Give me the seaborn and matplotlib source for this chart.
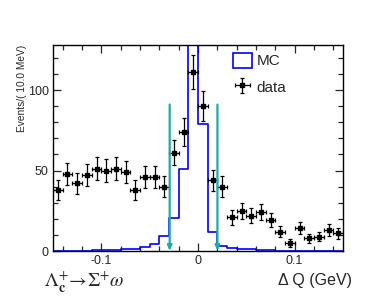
import numpy as np
import pandas as pd
import matplotlib
matplotlib.use("Agg")
import matplotlib.pyplot as plt
import seaborn as sns
from matplotlib.patches import Patch

# ---- data ----
bin_edges = [round(-0.15 + 0.01 * i, 3) for i in range(31)]
bin_centers = [round(-0.145 + 0.01 * i, 4) for i in range(30)]
data_counts = [38, 48, 42, 47, 51, 50, 51, 49, 38, 46, 46, 40, 61, 74, 111,
               90, 44, 40, 21, 25, 22, 24, 19, 12, 5, 14, 8, 9, 13, 11]
mc_counts = [0.3, 0.3, 0.3, 0.3, 0.6, 0.6, 0.6, 1.0, 1.0, 2.3, 4.3, 9.3, 20.3, 51, 180,
             79, 12, 3.3, 1.7, 1.0, 1.0, 0.6, 0.6, 0.3, 0.3, 0.3, 0.3, 0.3, 0.3, 0.3]
cut_positions = [-0.0293, 0.0201]
cut_height = 91
xticks = [-0.1, 0.0, 0.1]
xticklabels = ["-0.1", "0", "0.1"]
yticks = [0, 50, 100]

sns.set_style("ticks")
plt.rcParams['font.family'] = ['Liberation Sans', 'DejaVu Sans']
plt.rcParams['mathtext.fontset'] = 'stix'

df = pd.DataFrame({"dq": bin_centers, "mc": mc_counts, "n": data_counts})

fig = plt.figure(figsize=(3.82, 3.03), dpi=100)
ax = fig.add_axes([53/382, 1-251/303, 290/382, 206/303])

sns.histplot(data=df, x="dq", weights="mc", bins=list(bin_edges), element="step",
             fill=False, color="#0000ff", linewidth=1.2, ax=ax)

counts = df["n"].to_numpy(dtype=float)
eb = ax.errorbar(df["dq"], counts, yerr=np.sqrt(counts), xerr=0.005, fmt='s',
                 color='black', markersize=2.8, elinewidth=0.9, capsize=1.5,
                 capthick=0.9, zorder=5)

for xc in cut_positions:
    ax.annotate("", xy=(xc, 0), xytext=(xc, cut_height),
                arrowprops=dict(arrowstyle="-|>,head_length=0.3,head_width=0.13",
                                color="#1faaa5", lw=1.6, shrinkA=0, shrinkB=0),
                zorder=6)

ax.set_xlim(-0.15, 0.15)
ax.set_ylim(0, 128)
ax.set_xticks(xticks)
ax.set_xticklabels(xticklabels)
ax.set_yticks(yticks)
ax.set_xticks(np.arange(-0.14, 0.1501, 0.02), minor=True)
ax.set_yticks(np.arange(10, 128, 10), minor=True)
ax.tick_params(which='both', direction='in', top=True, right=True,
               labelsize=9, width=0.9, pad=3)
ax.tick_params(which='major', length=6)
ax.tick_params(which='minor', length=3.5)
for s in ax.spines.values():
    s.set_linewidth(1.0)
    s.set_color('black')
ax.set_xlabel("")
ax.set_ylabel("")

handles = [Patch(facecolor='white', edgecolor='#0000ff', linewidth=1.2), eb]
leg = ax.legend(handles, ["MC", "data"], loc='upper left',
                bbox_to_anchor=(0.62, 0.963), frameon=False, fontsize=11,
                handlelength=1.25, handleheight=1.15, handletextpad=0.3,
                labelspacing=0.7, borderaxespad=0.0, borderpad=0.0)

fig.text(22/382, 1-45/303, "Events/( 10.0 MeV)", rotation=90, ha='center',
         va='top', fontsize=7.3)
fig.text(352/382, 1-281/303, "Δ Q (GeV)", ha='right', va='center', fontsize=11.5)
fig.text(44/382, 1-281/303, r'$\Lambda_{\mathbf{c}}^{+}\!\rightarrow\!\Sigma^{+}\omega$',
         ha='left', va='center', fontsize=14)

fig.savefig("out.png", dpi=100)
